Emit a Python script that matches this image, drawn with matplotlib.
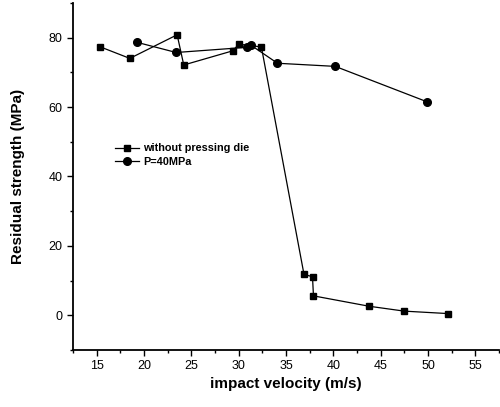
import matplotlib.pyplot as plt
from matplotlib.ticker import MultipleLocator

plt.rcParams['font.family'] = ['Liberation Sans', 'DejaVu Sans']

# without pressing die
v_free = [15.4, 18.5, 23.5, 24.2, 29.4, 30.0, 32.4, 36.9, 37.8, 37.9, 43.8, 47.5, 52.1]
s_free = [77.3, 74.0, 80.8, 72.1, 76.2, 78.1, 77.3, 11.8, 11.1, 5.6, 2.6, 1.2, 0.5]

# P=40MPa
v_die = [19.3, 23.4, 30.9, 31.3, 34.1, 40.2, 49.9]
s_die = [78.6, 75.7, 77.2, 77.8, 72.6, 71.7, 61.5]

fig = plt.figure(figsize=(5, 4.07), dpi=100)
ax = fig.add_axes([0.146, 0.14, 0.852, 0.853])

ax.plot(v_free, s_free, color='black', lw=0.9, marker='s', ms=5,
        label='without pressing die')
ax.plot(v_die, s_die, color='black', lw=0.9, marker='o', ms=5.5,
        label='P=40MPa')

ax.set_xlim(12.5, 57.5)
ax.set_ylim(-10, 90)
ax.xaxis.set_minor_locator(MultipleLocator(2.5))
ax.yaxis.set_minor_locator(MultipleLocator(10))
ax.set_xticks(range(15, 56, 5))
ax.set_yticks(range(0, 81, 20))

ax.spines['top'].set_visible(False)
ax.spines['right'].set_visible(False)
ax.spines['left'].set_linewidth(1.3)
ax.spines['bottom'].set_linewidth(1.3)
ax.tick_params(which='major', direction='out', length=4, width=1, labelsize=9)
ax.tick_params(which='minor', direction='out', length=2.5, width=1)

ax.set_xlabel('impact velocity (m/s)', fontsize=11, fontweight='bold', labelpad=3)
ax.set_ylabel('Residual strength (MPa)', fontsize=11, fontweight='bold', labelpad=17)

leg = ax.legend(loc='upper left', bbox_to_anchor=(0.075, 0.623), frameon=False,
                fontsize=7.8, handlelength=2.2, handletextpad=0.4, labelspacing=0.35)
for t in leg.get_texts():
    t.set_fontweight('bold')

fig.savefig('out.png', dpi=100)
